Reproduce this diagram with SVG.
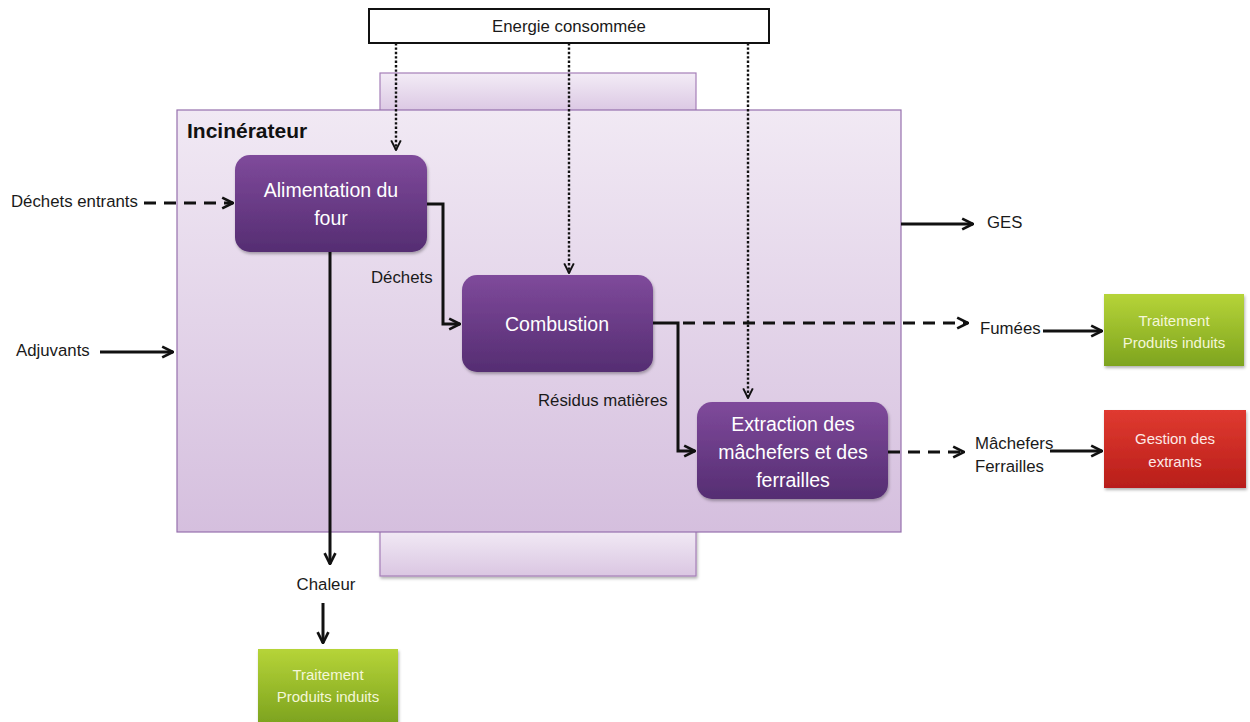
<svg xmlns="http://www.w3.org/2000/svg" width="1250" height="722" viewBox="0 0 1250 722">
<style>
text{font-family:"Liberation Sans",Arial,sans-serif;}
.lbl{font-size:16.8px;fill:#1a1a1a;}
.nt{font-size:19.5px;fill:#ffffff;}
.st{font-size:15px;fill:#f4f7d8;}
.sol{stroke:#111;stroke-width:3;fill:none;}
.dash{stroke:#111;stroke-width:3;fill:none;stroke-dasharray:12,8;}
.dot{stroke:#111;stroke-width:2.4;fill:none;stroke-dasharray:2.4,2;}
</style>
<defs>
<linearGradient id="gbg" x1="0" y1="0" x2="0" y2="1"><stop offset="0" stop-color="#f1e9f4"/><stop offset="1" stop-color="#d5bfde"/></linearGradient>
<linearGradient id="gtab" x1="0" y1="0" x2="0" y2="1"><stop offset="0" stop-color="#f3ecf6"/><stop offset="1" stop-color="#dac6e2"/></linearGradient>
<linearGradient id="gp" x1="0" y1="0" x2="0" y2="1"><stop offset="0" stop-color="#7f4a9b"/><stop offset="1" stop-color="#552d72"/></linearGradient>
<linearGradient id="gg" x1="0" y1="0" x2="0" y2="1"><stop offset="0" stop-color="#b6d438"/><stop offset="1" stop-color="#7ea41f"/></linearGradient>
<linearGradient id="gr" x1="0" y1="0" x2="0" y2="1"><stop offset="0" stop-color="#e03a30"/><stop offset="1" stop-color="#b81e1a"/></linearGradient>
<marker id="ah" viewBox="0 0 10 10" refX="9" refY="5" markerWidth="4.5" markerHeight="4.5" orient="auto" markerUnits="strokeWidth"><path d="M1,1 L9,5 L1,9" fill="none" stroke="#111" stroke-width="2"/></marker>
<marker id="ahs" viewBox="0 0 10 10" refX="9" refY="5" markerWidth="5" markerHeight="5" orient="auto" markerUnits="strokeWidth"><path d="M1,1 L9,5 L1,9" fill="none" stroke="#111" stroke-width="1.6"/></marker>
<filter id="sh" x="-10%" y="-10%" width="130%" height="130%"><feDropShadow dx="1" dy="2" stdDeviation="1.5" flood-color="#000" flood-opacity="0.3"/></filter>
</defs>
<rect width="1250" height="722" fill="#fff"/>
<g id="incinerateur">
<rect x="380" y="73" width="316" height="40" fill="url(#gtab)" stroke="#a57fb8" stroke-width="1.2"/>
<rect x="380" y="528" width="316" height="48" fill="url(#gtab)" stroke="#a57fb8" stroke-width="1.2" filter="url(#sh)"/>
<rect x="177" y="110" width="724" height="422" fill="url(#gbg)" stroke="#9670ad" stroke-width="1.2"/>
<text x="187" y="138" style="font-size:21px;font-weight:bold;fill:#111">Incinérateur</text>
</g>
<g id="energie">
<rect x="369" y="9" width="400" height="34" fill="#fff" stroke="#111" stroke-width="2"/>
<text x="569" y="32" class="lbl" text-anchor="middle">Energie consommée</text>
</g>
<g id="connectors">
<path class="dot" d="M396,43 V150" marker-end="url(#ahs)"/>
<path class="dot" d="M569,43 V273" marker-end="url(#ahs)"/>
<path class="dot" d="M748,43 V398" marker-end="url(#ahs)"/>
<path class="dash" d="M144,203 H233" marker-end="url(#ah)"/>
<path class="sol" d="M100,352 H173" marker-end="url(#ah)"/>
<path class="sol" d="M427,204 H443 V324 H460" marker-end="url(#ah)"/>
<path class="sol" d="M653,323 H678 V451 H695" marker-end="url(#ah)"/>
<path class="dash" d="M683,323 H968" marker-end="url(#ah)"/>
<path class="dash" d="M888,452 H964" marker-end="url(#ah)"/>
<path class="sol" d="M901,224 H973" marker-end="url(#ah)"/>
<path class="sol" d="M1043,331 H1102" marker-end="url(#ah)"/>
<path class="sol" d="M1050,451 H1102" marker-end="url(#ah)"/>
<path class="sol" d="M330,252 V564" marker-end="url(#ah)"/>
<path class="sol" d="M323,603 V643" marker-end="url(#ah)"/>
</g>
<g id="labels">
<text x="11" y="207" class="lbl">Déchets entrants</text>
<text x="16" y="356" class="lbl">Adjuvants</text>
<text x="371" y="283" class="lbl">Déchets</text>
<text x="538" y="406" class="lbl">Résidus matières</text>
<text x="987" y="228" class="lbl">GES</text>
<text x="980" y="334" class="lbl">Fumées</text>
<text x="975" y="449" class="lbl">Mâchefers</text>
<text x="975" y="472" class="lbl">Ferrailles</text>
<text x="326" y="590" class="lbl" text-anchor="middle">Chaleur</text>
</g>
<g id="alimentation">
<rect x="235" y="155" width="192" height="97" rx="15" fill="url(#gp)" filter="url(#sh)"/>
<text x="331" y="197" class="nt" text-anchor="middle">Alimentation du</text>
<text x="331" y="225" class="nt" text-anchor="middle">four</text>
</g>
<g id="combustion">
<rect x="462" y="275" width="191" height="97" rx="15" fill="url(#gp)" filter="url(#sh)"/>
<text x="557" y="331" class="nt" text-anchor="middle">Combustion</text>
</g>
<g id="extraction">
<rect x="697" y="402" width="191" height="97" rx="15" fill="url(#gp)" filter="url(#sh)"/>
<text x="793" y="431" class="nt" text-anchor="middle">Extraction des</text>
<text x="793" y="459" class="nt" text-anchor="middle">mâchefers et des</text>
<text x="793" y="487" class="nt" text-anchor="middle">ferrailles</text>
</g>
<g id="traitement1">
<rect x="1104" y="294" width="140" height="72" fill="url(#gg)" filter="url(#sh)"/>
<text x="1174" y="326" class="st" text-anchor="middle">Traitement</text>
<text x="1174" y="348" class="st" text-anchor="middle">Produits induits</text>
</g>
<g id="gestion">
<rect x="1104" y="410" width="142" height="78" fill="url(#gr)" filter="url(#sh)"/>
<text x="1175" y="444" class="st" text-anchor="middle" style="fill:#fde9e6">Gestion des</text>
<text x="1175" y="467" class="st" text-anchor="middle" style="fill:#fde9e6">extrants</text>
</g>
<g id="traitement2">
<rect x="258" y="649" width="140" height="73" fill="url(#gg)" filter="url(#sh)"/>
<text x="328" y="680" class="st" text-anchor="middle">Traitement</text>
<text x="328" y="702" class="st" text-anchor="middle">Produits induits</text>
</g>
</svg>
